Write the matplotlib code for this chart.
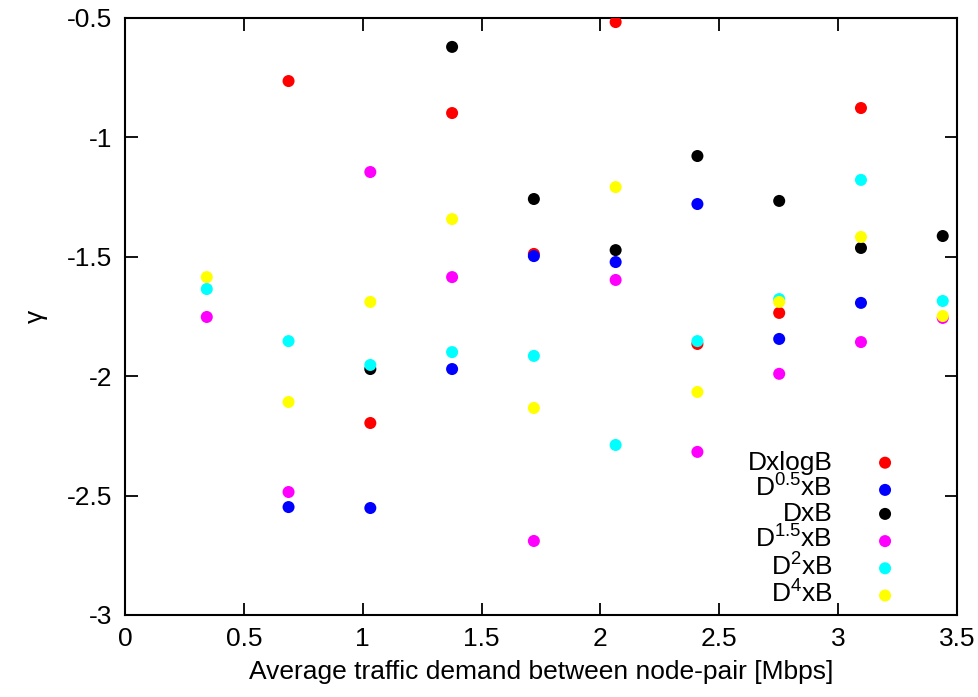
import numpy as np
import matplotlib
matplotlib.use("Agg")
import matplotlib.pyplot as plt

plt.rcParams['font.family'] = ['Liberation Sans', 'DejaVu Sans']
plt.rcParams['mathtext.default'] = 'regular'

# average traffic demand between node-pair [Mbps]
demand = [0.344, 0.688, 1.032, 1.376, 1.72, 2.064, 2.408, 2.752, 3.096, 3.44]

nan = np.nan
g_dlogb = [nan, -0.764, -2.196, -0.898, -1.488, -0.517, -1.865, -1.735, -0.877, nan]
g_d05b  = [nan, -2.548, -2.552, -1.970, -1.497, -1.522, -1.279, -1.844, -1.693, nan]
g_db    = [nan, nan, -1.970, -0.621, -1.258, -1.472, -1.078, -1.266, -1.463, -1.413]
g_d15b  = [-1.752, -2.485, -1.145, -1.585, -2.690, -1.597, -2.317, -1.990, -1.857, -1.756]
g_d2b   = [-1.635, -1.853, -1.953, -1.899, -1.915, -2.288, -1.853, -1.677, -1.178, -1.685]
g_d4b   = [-1.585, -2.108, -1.689, -1.342, -2.133, -1.208, -2.066, -1.689, -1.417, -1.748]

series = [
    ('DxlogB', g_dlogb, '#ff0000'),
    ('D$^{0.5}$xB', g_d05b, '#0000ff'),
    ('DxB', g_db, '#000000'),
    ('D$^{1.5}$xB', g_d15b, '#ff00ff'),
    ('D$^{2}$xB', g_d2b, '#00ffff'),
    ('D$^{4}$xB', g_d4b, '#ffff00'),
]

fs = 19

fig = plt.figure(figsize=(9.79, 6.97), dpi=100)
ax = fig.add_axes([125/979, 1 - 615/697, 832/979, 597/697])

for name, vals, col in series:
    ax.scatter(demand, vals, s=75, color=col, edgecolors='none', label=name, zorder=3)

ax.set_xlim(0, 3.5)
ax.set_ylim(-3, -0.5)
ax.set_xticks(np.arange(0, 3.51, 0.5))
ax.set_xticklabels(['0', '0.5', '1', '1.5', '2', '2.5', '3', '3.5'])
ax.set_yticks(np.arange(-3, -0.49, 0.5))
ax.set_yticklabels(['-3', '-2.5', '-2', '-1.5', '-1', '-0.5'])
ax.tick_params(direction='in', length=9, width=1.3, top=True, right=True,
               labelsize=fs, pad=9)
for sp in ax.spines.values():
    sp.set_linewidth(1.5)

ax.set_xlabel('Average traffic demand between node-pair [Mbps]', fontsize=fs, labelpad=6)
ax.set_ylabel('γ', fontsize=fs, labelpad=14)

ax.legend(loc='lower right', bbox_to_anchor=(1 - 35/832, -0.005), frameon=False,
          markerfirst=False, fontsize=fs, handletextpad=1.0,
          labelspacing=0.0, borderaxespad=0.0, scatterpoints=1)

fig.savefig('out.png', dpi=100)
